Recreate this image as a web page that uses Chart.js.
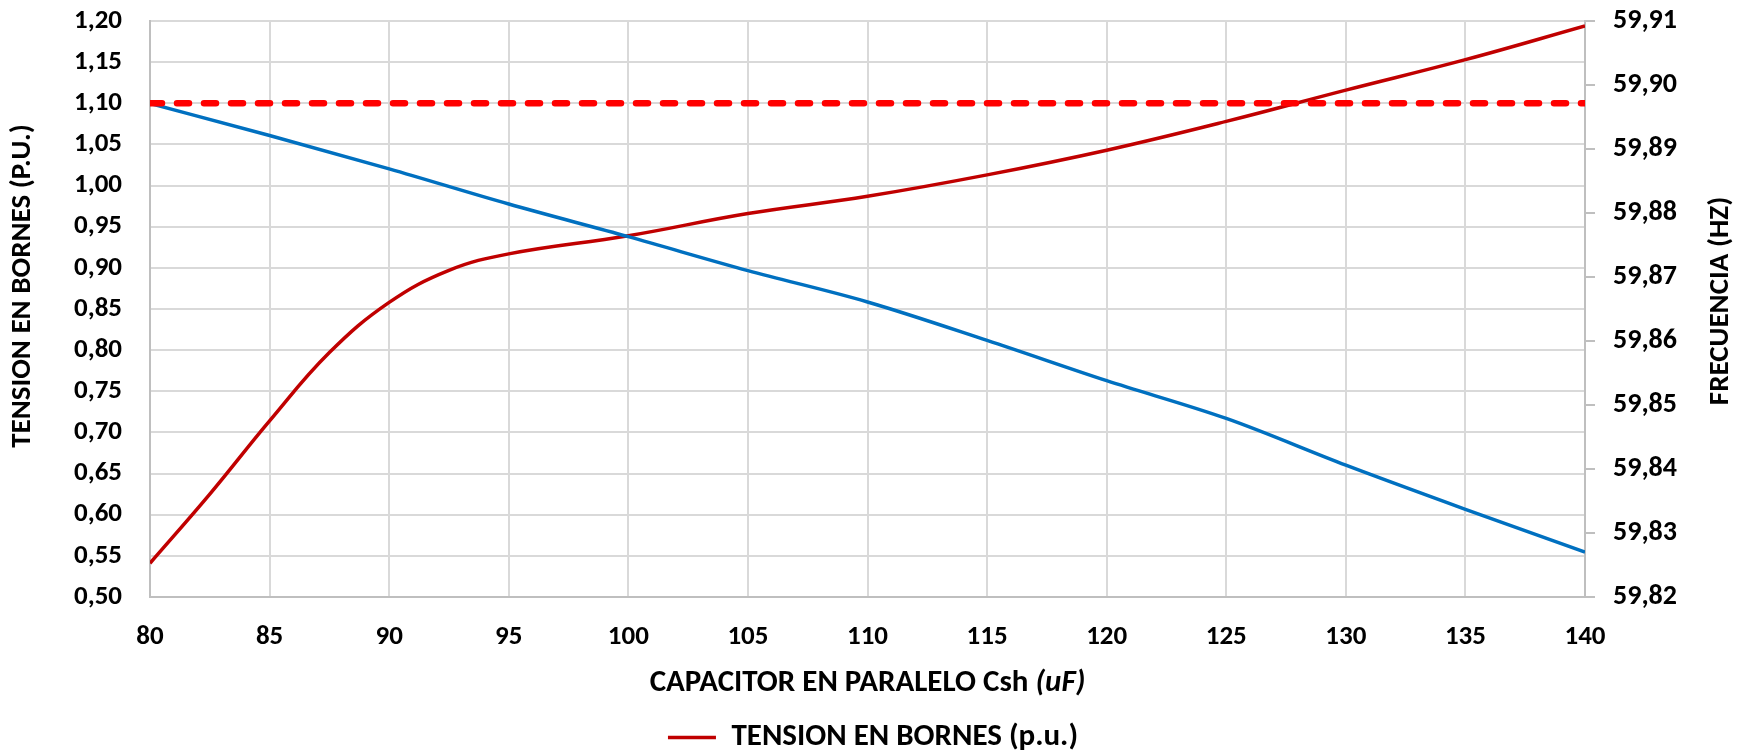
<!DOCTYPE html>
<html>
<head>
<meta charset="utf-8">
<script src="https://cdn.jsdelivr.net/npm/chart.js@4.4.1/dist/chart.umd.min.js"></script>
<style>
  html, body { margin: 0; padding: 0; background: #fff; }
  #wrap { width: 1746px; height: 755px; }
</style>
</head>
<body>
<div id="wrap"><canvas id="chart"></canvas></div>
<script>
// Datos
const capTension = [80, 82.5, 85, 87.5, 90, 92.5, 95, 100, 105, 110, 115, 120, 125, 130, 135, 140];
const tension = [0.541, 0.625, 0.714, 0.797, 0.858, 0.897, 0.917, 0.939, 0.966, 0.987, 1.013, 1.043, 1.078, 1.116, 1.153, 1.194];

const capFrecuencia = [80, 85, 90, 95, 100, 105, 110, 115, 120, 125, 130, 135, 140];
const frecuencia = [59.8971, 59.8921, 59.8869, 59.8814, 59.8763, 59.8710, 59.8661, 59.8601, 59.8538, 59.8479, 59.8406, 59.8337, 59.8270];

const capLimite = [80, 140];
const limite = [1.10, 1.10];

const FONT = "Carlito, Lato, 'Liberation Sans', sans-serif";
const comma = (v) => Number(v).toFixed(2).replace('.', ',');
const toPoints = (xs, ys) => xs.map((x, i) => ({ x: x, y: ys[i] }));

// sin margen extra arriba/abajo por las etiquetas de los ejes Y
const noYPadding = (scale) => { scale.paddingTop = 0; scale.paddingBottom = 0; };

// Titulos de ejes (dibujados a mano para la rotacion y la cursiva)
const axisTitles = {
    id: 'axisTitles',
    afterDraw(chart) {
        const ctx = chart.ctx;
        const area = chart.chartArea;
        ctx.save();
        ctx.fillStyle = '#000';
        ctx.textBaseline = 'middle';
        ctx.textAlign = 'center';

        ctx.font = "bold 29px " + FONT;
        ctx.save();
        ctx.translate(23, 286);
        ctx.rotate(-Math.PI / 2);
        ctx.fillText('TENSION EN BORNES (P.U.)', 0, 0);
        ctx.restore();

        ctx.save();
        ctx.translate(1721, 301);
        ctx.rotate(-Math.PI / 2);
        ctx.fillText('FRECUENCIA (HZ)', 0, 0);
        ctx.restore();

        const partA = 'CAPACITOR EN PARALELO Csh ';
        const partB = '(uF)';
        ctx.font = "bold 31px " + FONT;
        const wA = ctx.measureText(partA).width;
        ctx.font = "italic bold 31px " + FONT;
        const wB = ctx.measureText(partB).width;
        const cx = (area.left + area.right) / 2;
        const x0 = cx - (wA + wB) / 2;
        ctx.textAlign = 'left';
        ctx.font = "bold 31px " + FONT;
        ctx.fillText(partA, x0, 683);
        ctx.font = "italic bold 31px " + FONT;
        ctx.fillText(partB, x0 + wA, 683);
        ctx.restore();
    }
};

new Chart(document.getElementById('chart').getContext('2d'), {
    type: 'line',
    data: {
        datasets: [{
            label: 'TENSION EN BORNES (p.u.)',
            data: toPoints(capTension, tension),
            yAxisID: 'y',
            borderColor: '#C00000',
            backgroundColor: '#C00000',
            borderWidth: 3.5,
            pointRadius: 0,
            tension: 0.4,
            order: 2
        }, {
            label: 'FRECUENCIA (Hz)',
            data: toPoints(capFrecuencia, frecuencia),
            yAxisID: 'y1',
            borderColor: '#0070C0',
            backgroundColor: '#0070C0',
            borderWidth: 3.5,
            pointRadius: 0,
            cubicInterpolationMode: 'monotone',
            order: 1
        }, {
            label: 'LIMITE 1,10 p.u.',
            data: toPoints(capLimite, limite),
            yAxisID: 'y',
            borderColor: '#FF0000',
            backgroundColor: '#FF0000',
            borderWidth: 6.5,
            borderDash: [12, 15],
            borderCapStyle: 'round',
            pointRadius: 0,
            order: 0
        }]
    },
    options: {
        responsive: true,
        maintainAspectRatio: false,
        animation: false,
        layout: { padding: { top: 21, left: 0, right: 0, bottom: -8 } },
        plugins: {
            legend: {
                position: 'bottom',
                labels: {
                    filter: (item) => item.datasetIndex === 0,
                    usePointStyle: true,
                    pointStyle: 'line',
                    pointStyleWidth: 48,
                    color: '#000',
                    padding: 0,
                    font: { family: FONT, size: 31, weight: 'bold' }
                }
            },
            tooltip: { enabled: false }
        },
        scales: {
            x: {
                type: 'linear',
                min: 80,
                max: 140,
                afterFit: (scale) => { scale.height = 125; },
                ticks: {
                    stepSize: 5,
                    color: '#000',
                    padding: 24,
                    font: { family: FONT, size: 27, weight: 'bold' }
                },
                grid: { color: '#d9d9d9', lineWidth: 2, drawTicks: false },
                border: { color: '#bfbfbf', width: 2 }
            },
            y: {
                position: 'left',
                min: 0.5,
                max: 1.2,
                afterFit: (scale) => { scale.width = 150; noYPadding(scale); },
                ticks: {
                    stepSize: 0.05,
                    color: '#000',
                    padding: 28,
                    callback: (v) => comma(v),
                    font: { family: FONT, size: 27, weight: 'bold' }
                },
                grid: { color: '#d9d9d9', lineWidth: 2, drawTicks: false },
                border: { color: '#bfbfbf', width: 2 }
            },
            y1: {
                position: 'right',
                min: 59.82,
                max: 59.91,
                afterFit: (scale) => { scale.width = 161; noYPadding(scale); },
                ticks: {
                    stepSize: 0.01,
                    color: '#000',
                    padding: 18,
                    callback: (v) => comma(v),
                    font: { family: FONT, size: 28, weight: 'bold' }
                },
                grid: { drawOnChartArea: false, color: '#bfbfbf', lineWidth: 2, tickLength: 10 },
                border: { color: '#bfbfbf', width: 2 }
            }
        }
    },
    plugins: [axisTitles]
});
</script>
</body>
</html>
